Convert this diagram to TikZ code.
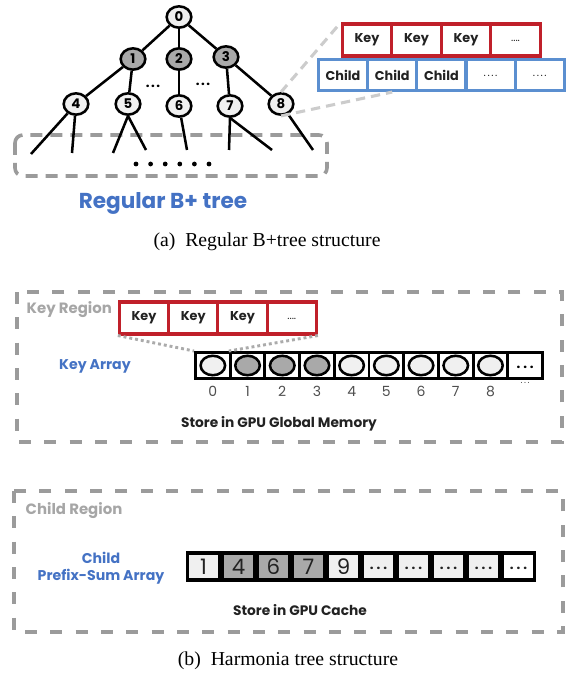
\documentclass[tikz,border=0pt]{standalone}
\usepackage{fontspec}
\setmainfont{Liberation Serif}
\newfontfamily\gothic{Poppins}
\usetikzlibrary{shapes.geometric}
\definecolor{tblue}{HTML}{4472C4}
\definecolor{kred}{HTML}{C0202A}
\definecolor{cblue}{HTML}{5B8FD0}
\definecolor{dgray}{HTML}{9B9B9B}
\definecolor{lgray}{HTML}{CCCCCC}
\definecolor{mgray}{HTML}{ABABAB}
\definecolor{nfill}{HTML}{F0F0F0}
\definecolor{gfill}{HTML}{A9A9A9}
\definecolor{rgray}{HTML}{A6A6A6}
\definecolor{txt}{HTML}{222222}
\newcommand{\sdots}[1]{.\hspace{#1}.\hspace{#1}.}
\begin{document}
\begin{tikzpicture}[x=0.75pt,y=-0.75pt,
  tnode/.style={ellipse, draw=black, line width=1.9pt, fill=nfill, minimum width=18.5pt, minimum height=16pt, inner sep=0pt, font=\gothic\bfseries\fontsize{10}{10}\selectfont},
  gnode/.style={tnode, fill=gfill},
  edge/.style={line width=1.9pt, black},
  cellfont/.style={font=\gothic\bfseries\fontsize{9.6}{9.6}\selectfont, text=txt},
  keycell/.style={draw=kred, line width=2.3pt, fill=white, minimum width=37pt, minimum height=24pt, inner sep=0pt, cellfont},
  childcell/.style={draw=cblue, line width=2.3pt, fill=white, minimum width=36.9pt, minimum height=23.3pt, inner sep=0pt, cellfont},
  regionbox/.style={draw=dgray, line width=2.7pt, dash pattern=on 9pt off 10pt},
  regionlabel/.style={font=\gothic\bfseries\fontsize{11.2}{11.2}\selectfont, text=rgray, anchor=west},
  bluelabel/.style={font=\gothic\bfseries\fontsize{10.6}{12.8}\selectfont, text=tblue, align=center},
  storelabel/.style={font=\gothic\bfseries\fontsize{10.3}{10.3}\selectfont, text=txt},
  arrcell/.style={draw=black, line width=2.2pt, fill=white, minimum width=26pt, minimum height=19.5pt, inner sep=0pt},
  ell/.style={ellipse, draw=black, line width=1.9pt, fill=nfill, minimum width=18.4pt, minimum height=14.6pt, inner sep=0pt},
  gell/.style={ell, fill=gfill},
  idx/.style={font=\gothic\fontsize{10.5}{10.5}\selectfont, text=txt!80},
  pcell/.style={fill=nfill, minimum width=21.75pt, minimum height=17.25pt, inner sep=0pt, font=\gothic\fontsize{16}{16}\selectfont, text=txt},
  dotcell/.style={pcell, font=\gothic\bfseries\fontsize{10}{10}\selectfont},
  celldots/.style={font=\gothic\fontsize{8}{8}\selectfont, text=txt},
  caption/.style={font=\fontsize{14.8}{14.8}\selectfont}
]
\useasboundingbox (0,0) rectangle (566,677);

% ---------------- (a) Regular B+ tree ----------------
\draw[draw=dgray, line width=2.7pt, dash pattern=on 9pt off 6pt, rounded corners=6pt] (15,135) rectangle (327,176);

\node[tnode] (n0) at (179,17) {0};
\node[gnode] (n1) at (133,59) {1};
\node[gnode] (n2) at (179,59) {2};
\node[gnode] (n3) at (226,57) {3};
\node[tnode] (n4) at (76,104) {4};
\node[tnode] (n5) at (128,104) {5};
\node[tnode] (n6) at (179,106) {6};
\node[tnode] (n7) at (230,106) {7};
\node[tnode] (n8) at (281,104) {8};

\node[font=\gothic\bfseries\fontsize{10}{10}\selectfont] (d1) at (153,86) {\sdots{1.2pt}};
\node[font=\gothic\bfseries\fontsize{10}{10}\selectfont] (d2) at (203,84) {\sdots{1.2pt}};

\coordinate (l1) at (31,154);
\coordinate (l2) at (72,153);
\coordinate (l3) at (113,153);
\coordinate (l4) at (146,150);
\coordinate (l5) at (187,150);
\coordinate (l6) at (229,150);
\coordinate (l7) at (272,150);
\coordinate (l8) at (313,150);

\draw[edge] (n0) -- (n1);
\draw[edge] (n0) -- (n2);
\draw[edge] (n0) -- (n3);
\draw[edge] (n1) -- (n4);
\draw[edge] (n1) -- (n5);
\draw[edge] (n2) -- (n6);
\draw[edge] (n3) -- (n7);
\draw[edge] (n3) -- (n8);
\draw[edge] (n4) -- (l1);
\draw[edge] (n4) -- (l2);
\draw[edge] (n5.south) -- (l3);
\draw[edge] (n5.south) -- (l4);
\draw[edge] (n6) -- (l5);
\draw[edge] (n7.south) -- (l6);
\draw[edge] (n7.south) -- (l7);
\draw[edge] (n8) -- (l8);

\foreach \i in {0,...,5} \fill (136+14.6*\i,164) circle (1.8pt);

% key / child node layout
\node[keycell] (k1) at (367,40) {Key};
\node[keycell] (k2) at (416.5,40) {Key};
\node[keycell] (k3) at (466,40) {Key};
\node[keycell, celldots] (k4) at (515.5,40) {\raisebox{-2.5pt}{....}};
\node[childcell] (c1) at (343,75) {Child};
\node[childcell] (c2) at (392.2,75) {Child};
\node[childcell] (c3) at (441.4,75) {Child};
\node[childcell, celldots] (c4) at (490.6,75) {\raisebox{-2.5pt}{.\hspace{1.2pt}.\hspace{1.2pt}.\hspace{1.2pt}.}};
\node[childcell, celldots] (c5) at (539.8,75) {\raisebox{-2.5pt}{.\hspace{1.2pt}.\hspace{1.2pt}.\hspace{1.2pt}.}};

\draw[lgray, line width=2.3pt, dash pattern=on 7pt off 4.5pt] (n8.north) -- (k1.north west);
\draw[lgray, line width=2.3pt, dash pattern=on 7pt off 4.5pt] (n8.south) -- (c2.south);

\node[font=\gothic\bfseries\fontsize{16.2}{16.2}\selectfont, text=tblue] (title) at (163,203) {Regular B+ tree};
\node[caption] (capa) at (267,242) {(a)\enspace Regular B+tree structure};

% ---------------- (b) Harmonia tree ----------------
\draw[regionbox] (17,292) rectangle (562,442);
\node[regionlabel] (keyregion) at (22,310) {Key Region};

\node[keycell] (kb1) at (144,318) {Key};
\node[keycell] (kb2) at (193.25,318) {Key};
\node[keycell] (kb3) at (242.5,318) {Key};
\node[keycell, celldots] (kb4) at (291.75,318) {\raisebox{-2.5pt}{....}};

\node[bluelabel] (keyarray) at (95,366) {Key Array};

\foreach \i in {0,...,9} {
  \node[arrcell] (a\i) at (212.85+34.7*\i,365.5) {};
}
\foreach \i in {0,4,5,6,7,8} { \node[ell] (e\i) at (a\i) {}; }
\foreach \i in {1,2,3} { \node[gell] (e\i) at (a\i) {}; }
\node[font=\gothic\bfseries\fontsize{10}{10}\selectfont] (a9dots) at ([yshift=-1.5pt]a9) {\sdots{2.2pt}};

\draw[mgray, line width=2.2pt, dash pattern=on 2.2pt off 2.2pt] (kb1.south west) -- (a0.north west);
\draw[mgray, line width=2.2pt, dash pattern=on 2.2pt off 2.2pt] (kb4.south east) -- (a1.north west);

\foreach \i in {0,...,8} {
  \node[idx] (i\i) at (212.85+34.7*\i,391) {\i};
}
\node[idx, font=\gothic\fontsize{7}{7}\selectfont] (i9) at (525.15,383) {\sdots{1.2pt}};

\node[storelabel] (storeg) at (279,424) {Store in GPU Global Memory};

% child region
\draw[regionbox] (14,491) rectangle (563,632);
\node[regionlabel] (childregion) at (21,511) {Child Region};
\node[bluelabel] (prefix) at (101,568) {Child\\Prefix-Sum Array};

\node[fill=black, minimum width=262.5pt, minimum height=23.25pt, inner sep=0pt] (carr) at (361,566.5) {};
\node[pcell] (p0) at (203.5,566.5) {1};
\node[pcell, fill=gfill] (p1) at (238.5,566.5) {4};
\node[pcell, fill=gfill] (p2) at (273.5,566.5) {6};
\node[pcell, fill=gfill] (p3) at (308.5,566.5) {7};
\node[pcell] (p4) at (343.5,566.5) {9};
\foreach \i/\x in {5/378.5,6/413.5,7/448.5,8/483.5} {
  \node[dotcell] (p\i) at (\x,566.5) {\raisebox{-5pt}{\sdots{2.2pt}}};
}
\node[dotcell, fill=white] (p9) at (518.5,566.5) {\raisebox{-5pt}{\sdots{2.2pt}}};

\node[storelabel] (storec) at (300,610) {Store in GPU Cache};

\node[caption] (capb) at (288,661) {(b)\enspace Harmonia tree structure};
\end{tikzpicture}
\end{document}
